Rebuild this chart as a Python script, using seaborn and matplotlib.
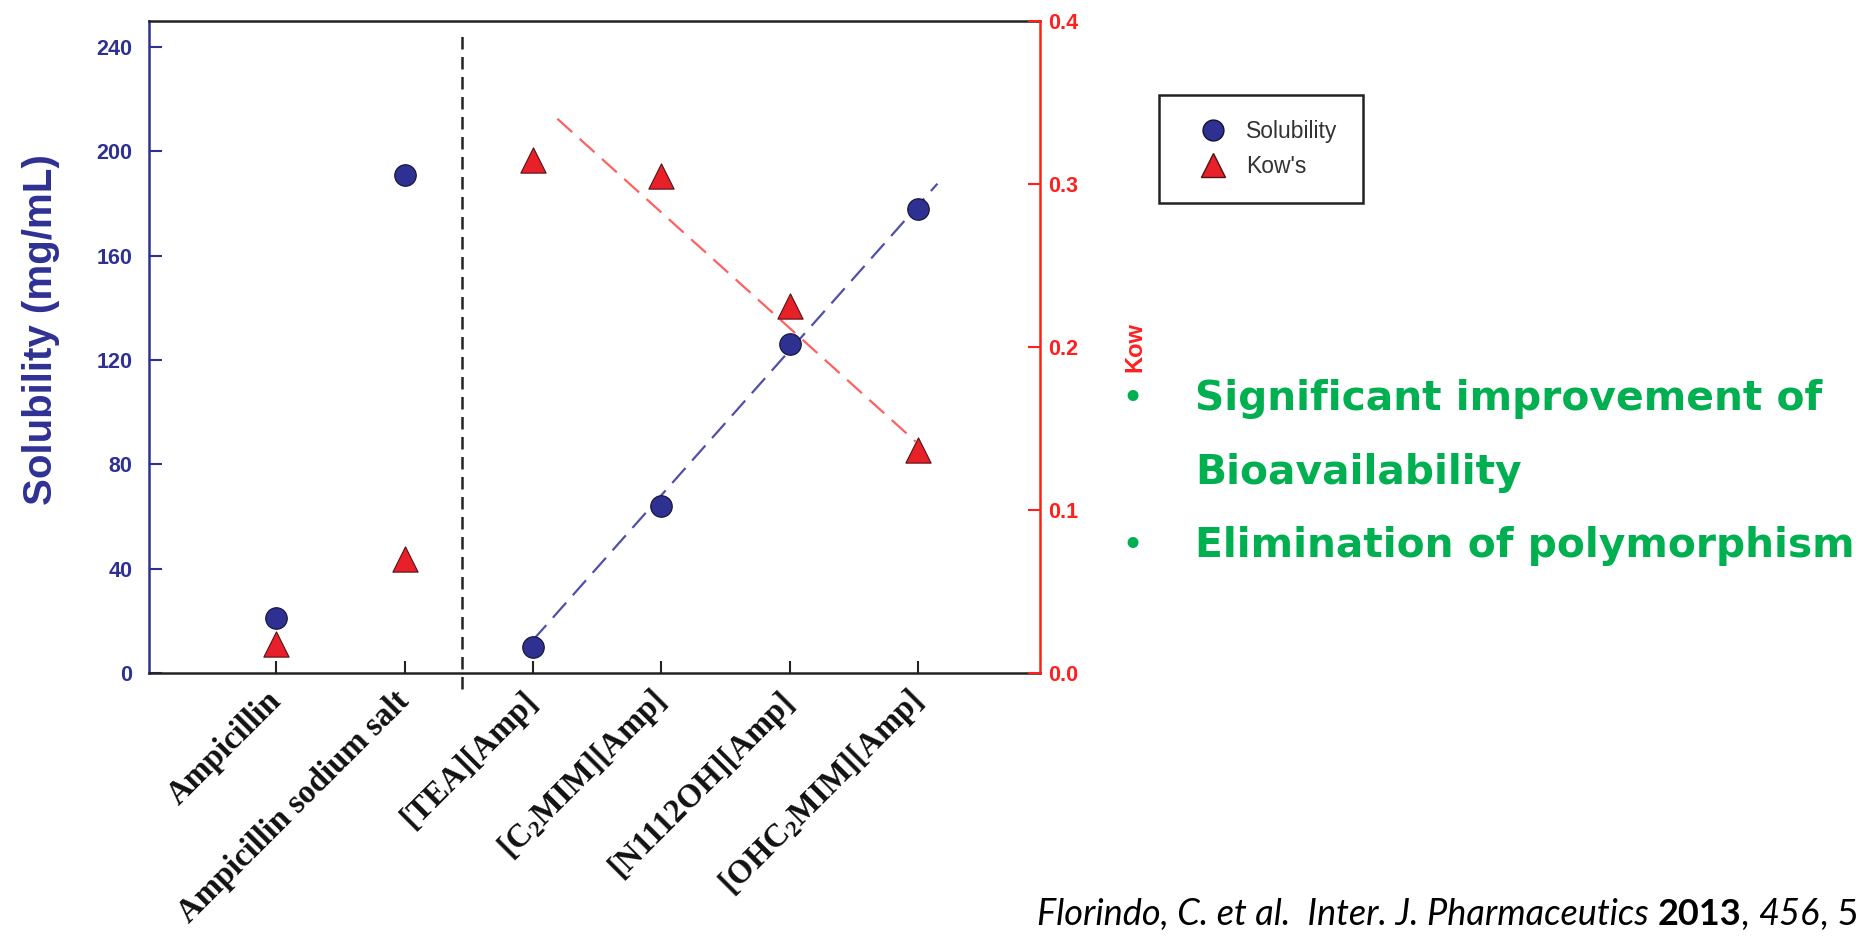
import numpy as np
import pandas as pd
import matplotlib
matplotlib.use("Agg")
import matplotlib.pyplot as plt
import seaborn as sns
from matplotlib.lines import Line2D
from matplotlib.font_manager import FontProperties

# ---------------- data ----------------
categories = ["Ampicillin", "Ampicillin sodium salt", "[TEA][Amp]",
              "[C$_2$MIM][Amp]", "[N1112OH][Amp]", "[OHC$_2$MIM][Amp]"]
solubility = [21, 191, 10, 64, 126, 178]          # mg/mL
kow = [0.018, 0.070, 0.315, 0.305, 0.225, 0.137]  # Kow
sol_ticks = [0, 40, 80, 120, 160, 200, 240]
kow_ticks = [0.0, 0.1, 0.2, 0.3, 0.4]
# dashed trend lines (category position, value)
sol_trend_x = [2.0, 5.15]
sol_trend_y = [12.6, 187.6]
kow_trend_x = [2.19, 4.98]
kow_trend_y = [0.340, 0.142]
separator_pos = 1.45
legend_labels = ["Solubility", "Kow's"]
bullet_lines = ["Significant improvement of", "Bioavailability", "Elimination of polymorphism"]
bullet_flags = [True, False, True]

# ---------------- style ----------------
sns.set_theme(style="white")
plt.rcParams["mathtext.default"] = "regular"

navy = "#2E3192"
red = "#FF1F1F"
green = "#00B050"
sans = "Liberation Sans"
serif = "Liberation Serif"

fig = plt.figure(figsize=(18.59, 9.36), dpi=100)
ax = fig.add_axes([0.0802, 0.281, 0.4793, 0.6966])
ax2 = ax.twinx()

xpos = np.arange(len(categories))
df = pd.DataFrame({"pos": xpos, "solubility": solubility, "kow": kow})

# trend lines
sns.lineplot(x=sol_trend_x, y=sol_trend_y, ax=ax, color="#5050A8", linewidth=1.6,
             linestyle=(0, (9, 4.5)))
sns.lineplot(x=kow_trend_x, y=kow_trend_y, ax=ax2, color="#FF6060", linewidth=1.6,
             linestyle=(0, (9, 4.5)))

# separator
ax.axvline(separator_pos, ymin=-0.025, ymax=0.985, color="#222222", lw=1.8,
           linestyle=(0, (5, 3)), clip_on=False, zorder=1)

# points
sns.scatterplot(data=df, x="pos", y="solubility", ax=ax, marker="o", s=240,
                color=navy, edgecolor="#111133", linewidth=0.8, zorder=5, legend=False)
sns.scatterplot(data=df, x="pos", y="kow", ax=ax2, marker="^", s=330,
                color="#E8202A", edgecolor="#551111", linewidth=0.8, zorder=5, legend=False)

# axes limits
ax.set_xlim(-0.99, 5.95)
ax.set_ylim(0, 250)
ax2.set_ylim(0, 0.4)

# spines
for sp in ax.spines.values():
    sp.set_linewidth(1.8)
    sp.set_color("#222222")
ax.spines["left"].set_color(navy)
ax.spines["right"].set_visible(False)
for name, sp in ax2.spines.items():
    sp.set_visible(name == "right")
ax2.spines["right"].set_color(red)
ax2.spines["right"].set_linewidth(1.8)

# left y axis
ax.set_yticks(sol_ticks)
ax.set_yticklabels([str(t) for t in sol_ticks])
ax.tick_params(axis="y", direction="in", length=9, width=1.5, color=navy,
               labelcolor=navy, pad=12, labelsize=15.5, left=True)
for lbl in ax.get_yticklabels():
    lbl.set_fontweight("bold")
    lbl.set_fontfamily(sans)
ax.set_ylabel("Solubility (mg/mL)", color=navy, fontsize=29, fontweight="bold",
              fontfamily=sans)
ax.yaxis.set_label_coords(-0.1, 0.527)

# right y axis
ax2.set_yticks(kow_ticks)
ax2.set_yticklabels([f"{t:.1f}" for t in kow_ticks])
ax2.tick_params(axis="y", direction="in", length=9, width=1.5, color=red,
                labelcolor=red, pad=6, labelsize=15.5, right=True)
for lbl in ax2.get_yticklabels():
    lbl.set_fontweight("bold")
    lbl.set_fontfamily(sans)
ax2.set_ylabel("Kow", color=red, fontsize=17, fontweight="bold",
               fontfamily=sans, labelpad=32)
ax2.set_xlabel("")

# x axis
ax.set_xticks(xpos)
ax.set_xticklabels(categories, rotation=45, ha="right", va="center",
                   rotation_mode="anchor", fontfamily=serif, fontweight="bold",
                   fontsize=23.5, color="#111111")
ax.tick_params(axis="x", direction="in", length=9, width=1.5, color="#222222",
               pad=17, bottom=True)
ax.set_xlabel("")

# legend
handles = [
    Line2D([], [], marker="o", ls="", markerfacecolor=navy, markeredgecolor="#111133",
           markersize=15),
    Line2D([], [], marker="^", ls="", markerfacecolor="#E8202A", markeredgecolor="#551111",
           markersize=17),
]
leg = fig.legend(handles, legend_labels, loc="upper left",
                 bbox_to_anchor=(0.6235, 0.8985), frameon=True, fancybox=False,
                 edgecolor="#222222", framealpha=1,
                 prop=FontProperties(family=sans, size=16.5),
                 borderpad=1.1, handletextpad=0.2, labelspacing=0.5,
                 borderaxespad=0, handlelength=2.5)
leg.get_frame().set_linewidth(1.8)
for t in leg.get_texts():
    t.set_color("#333333")

# green bullet text
line_base = [1 - 410 / 936, 1 - 484 / 936, 1 - 557 / 936]
for txt, flag, y in zip(bullet_lines, bullet_flags, line_base):
    fig.text(1195 / 1859, y, txt, color=green, fontsize=29.3, fontweight="bold",
             fontfamily="DejaVu Sans", ha="left", va="baseline")
    if flag:
        fig.text(1132 / 1859, y, "\u2022", color=green, fontsize=27,
                 fontfamily="DejaVu Sans", ha="center", va="baseline")

# citation
cite_font = "Lato"
cs = 26
t1 = fig.text(1037 / 1859, 1 - 925 / 936, "Florindo, C. et al.  Inter. J. Pharmaceutics ",
              fontfamily=cite_font, fontstyle="italic", fontsize=cs, ha="left",
              va="baseline", color="black")
t2 = ax.annotate("2013", xy=(1, 0), xycoords=t1, ha="left", va="bottom",
                 fontfamily=cite_font, fontweight="bold", fontsize=cs, color="black")
t3 = ax.annotate(", ", xy=(1, 0), xycoords=t2, ha="left", va="bottom",
                 fontfamily=cite_font, fontsize=cs, color="black")
t4 = ax.annotate("456", xy=(1, 0), xycoords=t3, ha="left", va="bottom",
                 fontfamily=cite_font, fontstyle="italic", fontsize=cs, color="black")
t5 = ax.annotate(", 5", xy=(1, 0), xycoords=t4, ha="left", va="bottom",
                 fontfamily=cite_font, fontsize=cs, color="black")

fig.savefig("out.png", dpi=100, facecolor="white")
